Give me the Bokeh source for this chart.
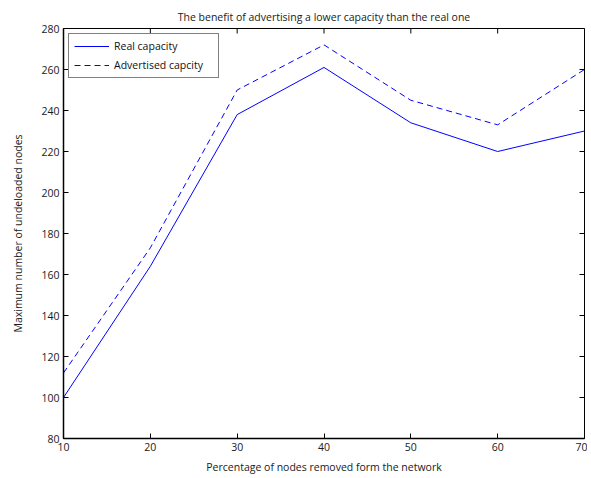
import math
from bokeh.plotting import figure
from bokeh.models import FixedTicker, Range1d, Legend, LegendItem
from bokeh.embed import file_html
from bokeh.resources import INLINE

pct_removed = [10, 20, 30, 40, 50, 60, 70]
real_capacity = [100, 164, 238, 261, 234, 220, 230]
advertised_capacity = [112, 173, 250, 272, 245, 233, 260]
x_ticks = [10, 20, 30, 40, 50, 60, 70]
y_ticks = [80, 100, 120, 140, 160, 180, 200, 220, 240, 260, 280]

FONT = "Open Sans"
TXT = "#1a1a1a"

p = figure(width=587, height=476, output_backend="svg", toolbar_location=None,
           x_range=Range1d(x_ticks[0], x_ticks[-1]), y_range=Range1d(y_ticks[0], y_ticks[-1]),
           min_border_left=63, min_border_right=3, min_border_top=28, min_border_bottom=38,
           title="The benefit of advertising a lower capacity than the real one")
p.title.align = "center"
p.title.text_font = FONT
p.title.text_font_size = "10.5px"
p.title.text_font_style = "normal"
p.title.text_color = TXT
p.title.standoff = 10
p.title.offset = 0

p.xgrid.visible = False
p.ygrid.visible = False
p.outline_line_color = "black"
p.outline_line_width = 1
p.background_fill_color = "white"
p.border_fill_color = "white"

for ax in (p.xaxis[0], p.yaxis[0]):
    ax.major_tick_in = 5
    ax.major_tick_out = 0
    ax.minor_tick_in = 0
    ax.minor_tick_out = 0
    ax.axis_line_color = "black"
    ax.axis_line_width = 1.5
    ax.major_tick_line_color = "black"
    ax.major_label_text_font = FONT
    ax.major_label_text_font_size = "10.5px"
    ax.major_label_text_color = TXT
    ax.axis_label_text_font = FONT
    ax.axis_label_text_font_size = "10.5px"
    ax.axis_label_text_font_style = "normal"
    ax.axis_label_text_color = TXT

p.xaxis.ticker = FixedTicker(ticks=x_ticks)
p.yaxis.ticker = FixedTicker(ticks=y_ticks)
p.xaxis.axis_label = "Percentage of nodes removed form the network"
p.yaxis.axis_label = "Maximum number of undeloaded nodes"
p.xaxis.major_label_standoff = 4
p.yaxis.major_label_standoff = 4
p.xaxis.axis_label_standoff = 6
p.yaxis.axis_label_standoff = 13

# inward ticks on the top and right edges (box on)
p.ray(x=x_ticks, y=[y_ticks[-1]] * len(x_ticks), length=5, length_units="screen",
      angle=-math.pi / 2, line_color="black", line_width=1)
p.ray(x=[x_ticks[-1]] * len(y_ticks), y=y_ticks, length=5, length_units="screen",
      angle=math.pi, line_color="black", line_width=1)

r1 = p.line(pct_removed, real_capacity, line_color="#0000ff", line_width=1)
r2 = p.line(pct_removed, advertised_capacity, line_color="#0000ff", line_width=1, line_dash="6 4")

legend = Legend(items=[LegendItem(label="Real capacity", renderers=[r1]),
                       LegendItem(label="Advertised capcity", renderers=[r2])],
                location="top_left")
legend.border_line_color = "black"
legend.border_line_width = 1.5
legend.label_text_font = FONT
legend.label_text_font_size = "10.5px"
legend.label_text_color = "#111111"
legend.glyph_width = 35
legend.glyph_height = 12
legend.label_height = 12
legend.label_width = 99
legend.spacing = 5
legend.padding = 5
legend.margin = 5
legend.label_standoff = 5
legend.background_fill_alpha = 1
p.add_layout(legend)

open("out.html", "w").write(file_html(p, INLINE))
